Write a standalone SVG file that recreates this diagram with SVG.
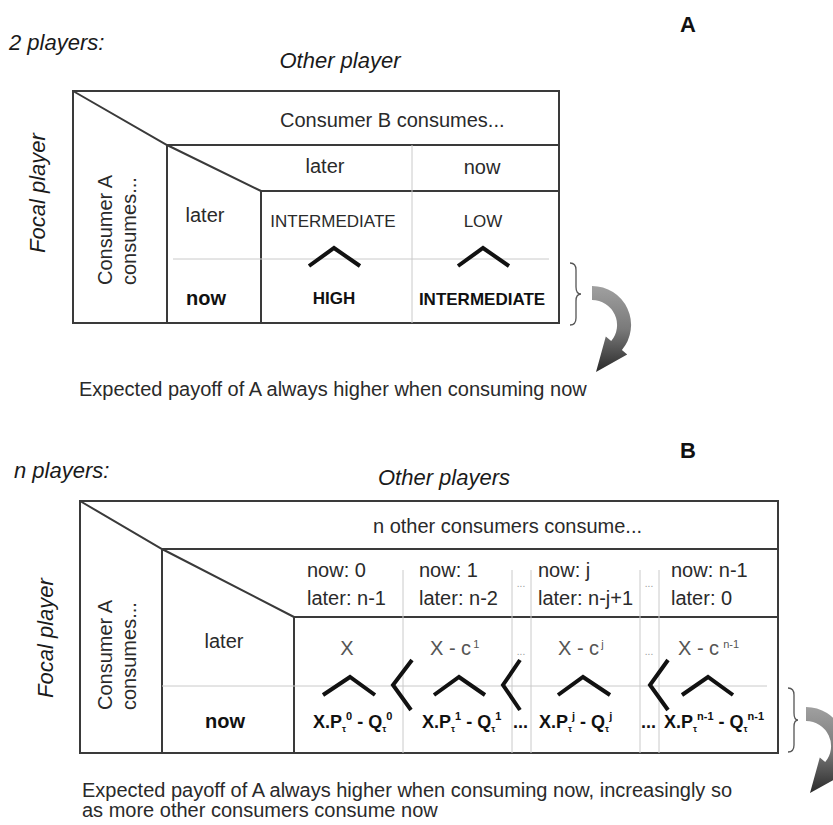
<svg xmlns="http://www.w3.org/2000/svg" width="833" height="825" viewBox="0 0 833 825">
<style>
text{font-family:"Liberation Sans",Arial,sans-serif;fill:#2a2a2a}
.lbl{font-size:22px;font-style:italic;fill:#1a1a1a}
.hd{font-size:20px}
.sm{font-size:17px}
.b{font-weight:bold;fill:#111}
.pl{font-size:22px;font-weight:bold;fill:#111}
.cx{font-size:20px;fill:#555}
.f{font-size:18px;font-weight:bold;fill:#111}
.sb{font-size:9px}
.sp{font-size:11px}
.dots{font-size:10px;fill:#999}
.grid{stroke:#3a3a3a;stroke-width:2;fill:none}
.lite{stroke:#cacaca;stroke-width:1;fill:none}
.chev{stroke:#111;stroke-width:4;fill:none}
.brace{stroke:#555;stroke-width:1.3;fill:none}
.carrow{fill:url(#g)}
</style>
<defs>
<linearGradient id="g" x1="0" y1="0" x2="0" y2="1">
<stop offset="0" stop-color="#a0a0a0"/>
<stop offset="0.5" stop-color="#7a7a7a"/>
<stop offset="1" stop-color="#2a2a2a"/>
</linearGradient>
<path id="curv" d="M0,0 A39,39 0 0,1 29.9,64.1 L35.2,68.6 L4,86 L13.8,50.6 L19.2,55.1 A25,25 0 0,0 0,14 Z"/>
</defs>

<!-- Panel A -->
<g id="panelA-labels">
<text class="pl" x="688" y="32" text-anchor="middle">A</text>
<text class="lbl" x="9" y="50">2 players:</text>
<text class="lbl" x="340" y="68" text-anchor="middle">Other player</text>
<text class="lbl" transform="translate(45,193) rotate(-90)" text-anchor="middle">Focal player</text>
</g>
<g id="tableA">
<rect class="grid" x="73" y="91" width="486" height="232"/>
<path class="grid" d="M73,91 L167,145 L261,191 M167,145 H559 M261,191 H559 M167,145 V323 M261,191 V323"/>
<path class="lite" d="M412,145 V323 M173,259 H549"/>
<text class="hd" x="280" y="127">Consumer B consumes...</text>
<text class="hd" x="325" y="173" text-anchor="middle">later</text>
<text class="hd" x="482" y="174" text-anchor="middle">now</text>
<text class="hd" transform="translate(112,285) rotate(-90)">Consumer A</text>
<text class="hd" transform="translate(136,285) rotate(-90)">consumes...</text>
<text class="hd" x="205" y="222" text-anchor="middle">later</text>
<text class="hd b" x="206" y="305" text-anchor="middle">now</text>
<text class="sm" x="333" y="227" text-anchor="middle">INTERMEDIATE</text>
<text class="sm" x="483" y="227" text-anchor="middle">LOW</text>
<text class="sm b" x="334" y="304" text-anchor="middle" font-size="16.5">HIGH</text>
<text class="sm b" x="482" y="305" text-anchor="middle" font-size="16.5">INTERMEDIATE</text>
</g>
<g id="chevronsA">
<path class="chev" d="M309,266 L334,248 L360,266 M458,266 L483,248 L509,266"/>
</g>
<g id="noteA">
<text class="hd" x="79" y="396">Expected payoff of A always higher when consuming now</text>
</g>

<!-- Panel B -->
<g id="panelB-labels">
<text class="pl" x="688" y="458" text-anchor="middle">B</text>
<text class="lbl" x="14" y="478">n players:</text>
<text class="lbl" x="444" y="485" text-anchor="middle">Other players</text>
<text class="lbl" transform="translate(53,638) rotate(-90)" text-anchor="middle">Focal player</text>
</g>
<g id="tableB">
<rect class="grid" x="80" y="501" width="698" height="252"/>
<path class="grid" d="M80,501 L162,549 L294,617 M162,549 H778 M294,617 H778 M162,549 V753 M294,617 V753"/>
<path class="lite" d="M403,570 V753 M512,570 V753 M531,570 V753 M640,570 V753 M659,570 V753 M162,686 H767"/>
<text class="hd" x="373" y="533">n other consumers consume...</text>
<text class="hd" x="307" y="577">now: 0</text>
<text class="hd" x="307" y="605">later: n-1</text>
<text class="hd" x="419" y="577">now: 1</text>
<text class="hd" x="419" y="605">later: n-2</text>
<text class="hd" x="538" y="577">now: j</text>
<text class="hd" x="538" y="605">later: n-j+1</text>
<text class="hd" x="671" y="577">now: n-1</text>
<text class="hd" x="671" y="605">later: 0</text>
<text class="dots" x="521" y="587" text-anchor="middle">...</text>
<text class="dots" x="649" y="587" text-anchor="middle">...</text>
<text class="hd" transform="translate(112,710) rotate(-90)">Consumer A</text>
<text class="hd" transform="translate(136,710) rotate(-90)">consumes...</text>
<text class="hd" x="224" y="648" text-anchor="middle">later</text>
<text class="hd b" x="225" y="728" text-anchor="middle">now</text>
<text class="cx" x="347" y="655" text-anchor="middle">X</text>
<text class="cx" x="430" y="655">X - c<tspan class="sp" dx="2" dy="-7">1</tspan></text>
<text class="cx" x="558" y="655">X - c<tspan class="sp" dx="2" dy="-7">j</tspan></text>
<text class="cx" x="678" y="655">X - c<tspan class="sp" dx="4" dy="-7">n-1</tspan></text>
<text class="dots" x="521" y="655" text-anchor="middle">...</text>
<text class="dots" x="649" y="655" text-anchor="middle">...</text>
<text class="f" x="313" y="728">X.P<tspan class="sb" dy="4">τ</tspan><tspan class="sp" dy="-12">0</tspan><tspan dy="8"> - Q</tspan><tspan class="sb" dy="4">τ</tspan><tspan class="sp" dy="-12">0</tspan></text>
<text class="f" x="422" y="728">X.P<tspan class="sb" dy="4">τ</tspan><tspan class="sp" dy="-12">1</tspan><tspan dy="8"> - Q</tspan><tspan class="sb" dy="4">τ</tspan><tspan class="sp" dy="-12">1</tspan></text>
<text class="f" x="513" y="728">...</text>
<text class="f" x="539" y="728">X.P<tspan class="sb" dy="4">τ</tspan><tspan class="sp" dy="-12">j</tspan><tspan dy="8"> - Q</tspan><tspan class="sb" dy="4">τ</tspan><tspan class="sp" dy="-12">j</tspan></text>
<text class="f" x="641" y="728">...</text>
<text class="f" x="664" y="728">X.P<tspan class="sb" dy="4">τ</tspan><tspan class="sp" dy="-12">n-1</tspan><tspan dy="8"> - Q</tspan><tspan class="sb" dy="4">τ</tspan><tspan class="sp" dy="-12">n-1</tspan></text>
</g>
<g id="chevronsB">
<path class="chev" d="M323,695 L350,677 L375,695 M434,695 L459,677 L485,695 M558,695 L583,677 L610,695 M682,695 L708,677 L733,695"/>
<path class="chev" d="M412,660 L393,685 L411,710 M520,660 L503,685 L520,710 M668,660 L650,685 L668,710"/>
</g>
<g id="noteB">
<text class="hd" x="82" y="797">Expected payoff of A always higher when consuming now, increasingly so</text>
<text class="hd" x="82" y="817">as more other consumers consume now</text>
</g>

<!-- connectors -->
<g id="connectors">
<path class="brace" d="M570,263 Q576,263 576,270 L576,287 Q576,294 581,294 Q576,294 576,301 L576,318 Q576,325 570,325"/>
<use href="#curv" class="carrow" transform="translate(592,286)"/>
<path class="brace" d="M788,688 Q794,688 794,695 L794,713 Q794,720 798,720 Q794,720 794,727 L794,745 Q794,752 788,752"/>
<use href="#curv" class="carrow" transform="translate(806,707)"/>
</g>
</svg>
